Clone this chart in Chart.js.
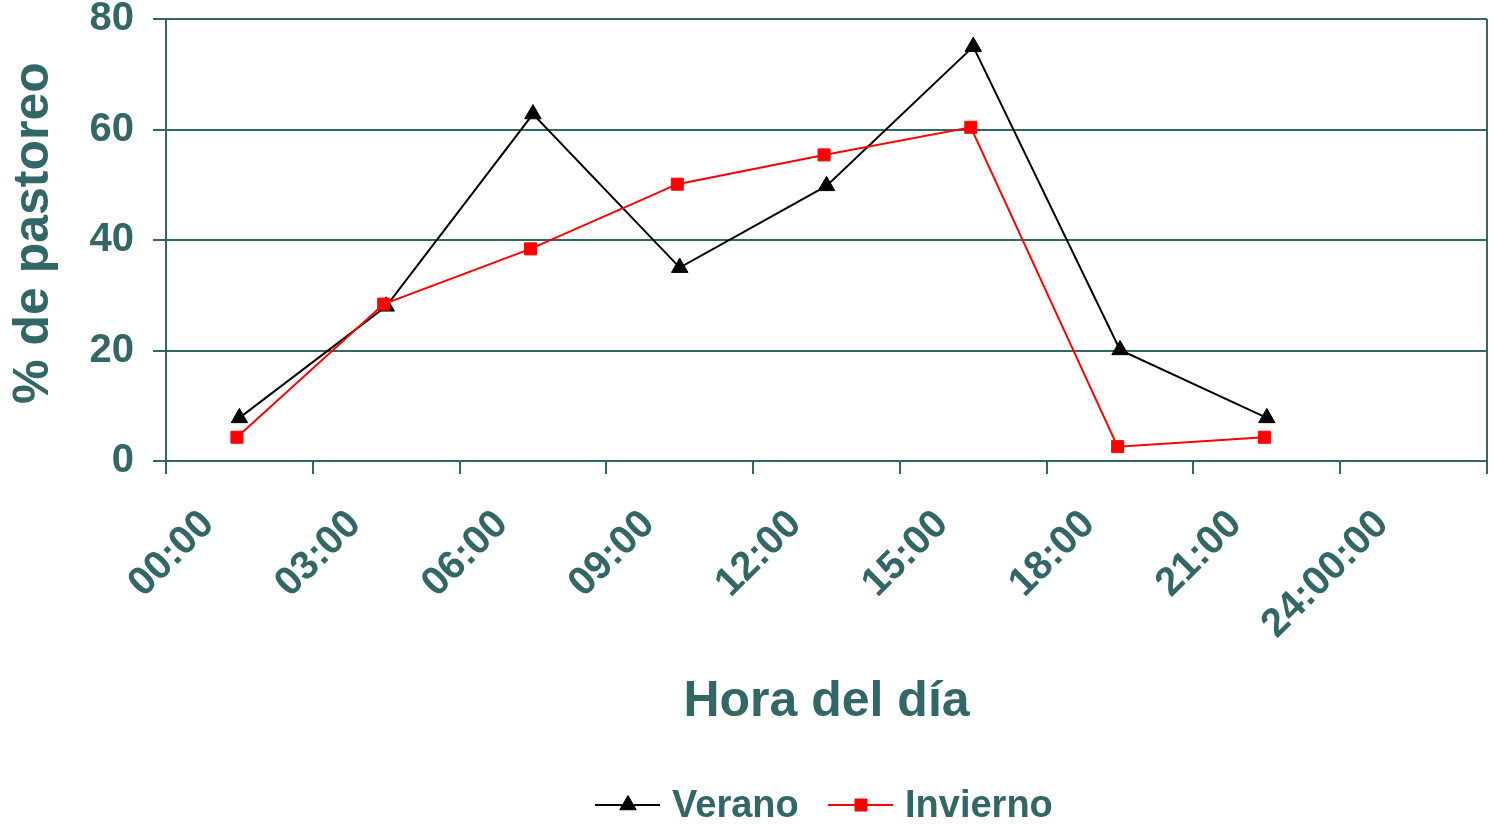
<!DOCTYPE html>
<html>
<head>
<meta charset="utf-8">
<script src="https://cdn.jsdelivr.net/npm/chart.js@4.4.1/dist/chart.umd.min.js"></script>
<style>
  html, body { margin: 0; padding: 0; background: #ffffff; }
  #wrap { width: 1493px; height: 824px; position: relative; }
</style>
</head>
<body>
<div id="wrap"><canvas id="grafico"></canvas></div>
<script>
"use strict";

// Datos (hora del día en horas, % de pastoreo)
const horasVerano = [1.5, 4.5, 7.5, 10.5, 13.5, 16.5, 19.5, 22.5];
const valoresVerano = [7.8, 28, 62.8, 35, 49.8, 75, 20.1, 7.8];

const horasInvierno = [1.45, 4.45, 7.45, 10.45, 13.45, 16.45, 19.45, 22.45];
const valoresInvierno = [4.3, 28.4, 38.4, 50.1, 55.4, 60.4, 2.6, 4.3];

const etiquetasHora = ["00:00", "03:00", "06:00", "09:00", "12:00", "15:00", "18:00", "21:00", "24:00:00", ""];
const ticksY = [0, 20, 40, 60, 80];

const TEAL = "#336666";
const FUENTE = "'Liberation Sans', Arial, sans-serif";

function puntos(xs, ys) {
  return xs.map((x, i) => ({ x: x, y: ys[i] }));
}

// Leyenda dibujada a mano (línea + marcador + texto)
const leyendaPlugin = {
  id: "leyendaAbajo",
  afterDraw(chart) {
    const ctx = chart.ctx;
    const y = 805;
    const items = [
      { ds: chart.data.datasets[1], x0: 595, texto: "Verano" },
      { ds: chart.data.datasets[0], x0: 828, texto: "Invierno" }
    ];
    ctx.save();
    items.forEach(it => {
      ctx.strokeStyle = it.ds.borderColor;
      ctx.lineWidth = 2;
      ctx.beginPath();
      ctx.moveTo(it.x0, y);
      ctx.lineTo(it.x0 + 65, y);
      ctx.stroke();
      ctx.fillStyle = it.ds.pointBackgroundColor;
      ctx.strokeStyle = it.ds.pointBorderColor;
      ctx.lineWidth = 1;
      Chart.helpers.drawPoint(ctx, {
        pointStyle: it.ds.pointStyle,
        radius: it.ds.pointRadius,
        borderWidth: 1,
        rotation: 0
      }, it.x0 + 33, y);
      ctx.fillStyle = TEAL;
      ctx.font = "bold 38px " + FUENTE;
      ctx.textAlign = "left";
      ctx.textBaseline = "alphabetic";
      ctx.fillText(it.texto, it.x0 + 77, y + 12);
    });
    ctx.restore();
  }
};

const ctx = document.getElementById("grafico").getContext("2d");

new Chart(ctx, {
  type: "line",
  data: {
    datasets: [
      {
        label: "Invierno",
        data: puntos(horasInvierno, valoresInvierno),
        borderColor: "#ff0000",
        backgroundColor: "#ff0000",
        borderWidth: 2,
        pointStyle: "rect",
        pointRadius: 8.5,
        pointBackgroundColor: "#ff0000",
        pointBorderColor: "#ff0000",
        pointBorderWidth: 1,
        tension: 0,
        order: 0
      },
      {
        label: "Verano",
        data: puntos(horasVerano, valoresVerano),
        borderColor: "#000000",
        backgroundColor: "#000000",
        borderWidth: 2,
        pointStyle: "triangle",
        pointRadius: 9.5,
        pointBackgroundColor: "#000000",
        pointBorderColor: "#000000",
        pointBorderWidth: 1,
        tension: 0,
        order: 1
      }
    ]
  },
  options: {
    responsive: true,
    maintainAspectRatio: false,
    animation: false,
    events: [],
    layout: { autoPadding: false, padding: { top: 19, right: 6, bottom: 0, left: 0 } },
    plugins: {
      legend: { display: false },
      tooltip: { enabled: false }
    },
    scales: {
      x: {
        type: "linear",
        min: 0,
        max: 27,
        afterBuildTicks: (s) => { s.ticks = etiquetasHora.map((_, i) => ({ value: i * 3 })); },
        afterFit: (s) => {
          s.height = 363;
          s.paddingLeft = 0;
          s.paddingRight = 0;
        },
        border: { display: true, color: TEAL, width: 2 },
        grid: {
          drawOnChartArea: true,
          color: (c) => (c.tick && c.tick.value === 27 ? TEAL : "rgba(0,0,0,0)"),
          tickColor: TEAL,
          lineWidth: 2,
          tickLength: 13
        },
        ticks: {
          autoSkip: false,
          maxRotation: 45,
          minRotation: 45,
          padding: 27,
          labelOffset: 42,
          color: TEAL,
          font: { family: FUENTE, size: 40, weight: "bold" },
          callback: (v, i) => etiquetasHora[i]
        },
        title: {
          display: true,
          text: "Hora del día",
          color: TEAL,
          font: { family: FUENTE, size: 50, weight: "bold" },
          padding: { top: 0, bottom: 92 }
        }
      },
      y: {
        min: 0,
        max: 80,
        afterBuildTicks: (s) => { s.ticks = ticksY.map(v => ({ value: v })); },
        afterFit: (s) => {
          s.width = 166;
          s.paddingTop = 0;
          s.paddingBottom = 0;
        },
        border: { display: true, color: TEAL, width: 2 },
        grid: {
          color: TEAL,
          tickColor: TEAL,
          lineWidth: 2,
          tickLength: 13
        },
        ticks: {
          padding: 19,
          color: TEAL,
          font: { family: FUENTE, size: 40, weight: "bold" }
        },
        title: {
          display: true,
          text: " % de pastoreo",
          color: TEAL,
          font: { family: FUENTE, size: 50, weight: "bold" },
          padding: { top: 4, bottom: 0 }
        }
      }
    }
  },
  plugins: [leyendaPlugin]
});
</script>
</body>
</html>
